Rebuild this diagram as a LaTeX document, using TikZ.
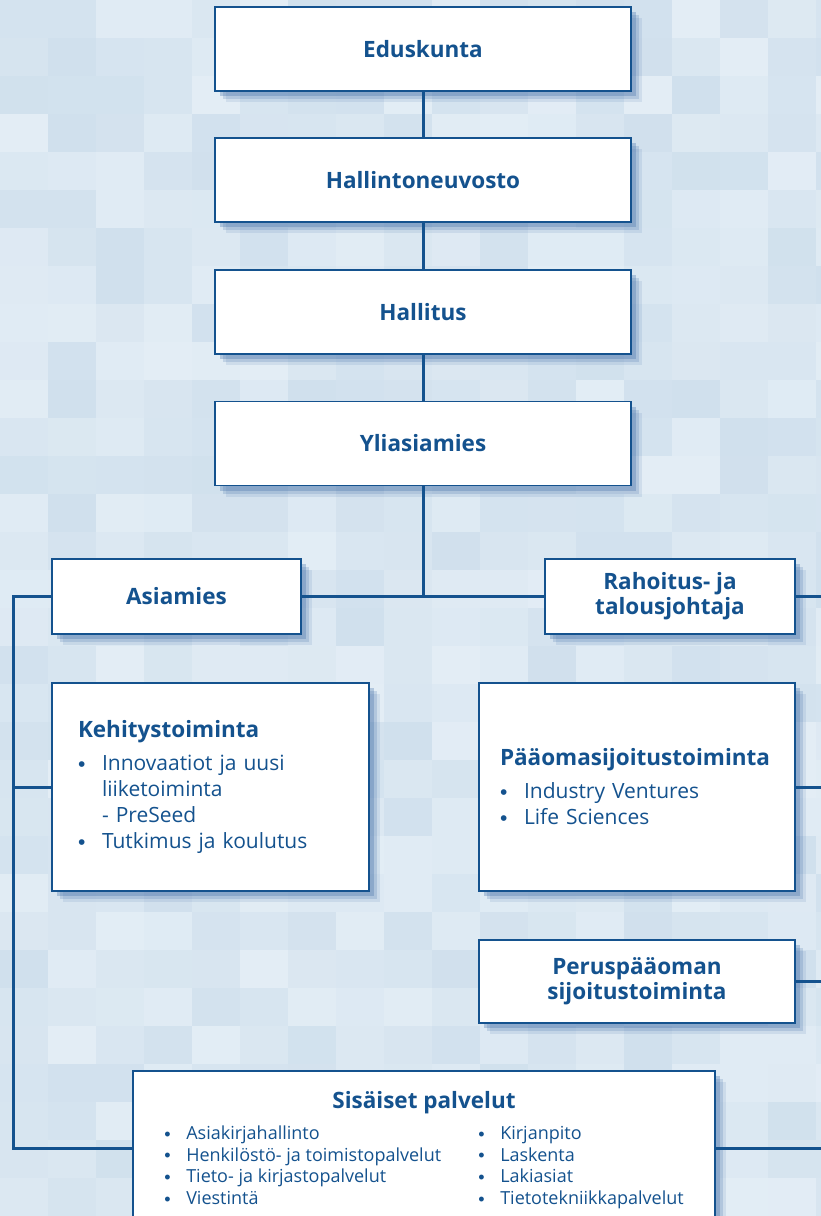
\documentclass[tikz,border=0pt]{standalone}
\usepackage{fontspec}
\setmainfont{Open Sans}
\newfontfamily\dotfont{Liberation Sans}
\usetikzlibrary{shadows}
\definecolor{orgblue}{HTML}{14528E}
\definecolor{bgpale}{HTML}{EAF2F8}
\definecolor{bgdark}{HTML}{C9DBEA}
\definecolor{shadeblue}{HTML}{3F6CA6}
\newcommand{\bigdot}{\raisebox{-0.04em}{\dotfont\textbullet}}
\newcommand{\bul}[1]{\makebox[24pt][l]{\bigdot}#1}
\newcommand{\cont}[1]{\hspace*{24pt}#1}
\newcommand{\sbul}[1]{\makebox[22pt][l]{\bigdot}#1}
\tikzset{
  box/.style={draw=orgblue, line width=1.8pt, fill=white, text=orgblue,
    drop shadow={shadow xshift=11pt, shadow yshift=-11pt, fill=shadeblue, opacity=.12},
    drop shadow={shadow xshift=8pt, shadow yshift=-8pt, fill=shadeblue, opacity=.2},
    drop shadow={shadow xshift=5pt, shadow yshift=-5pt, fill=shadeblue, opacity=.3},
    inner sep=0pt},
  headbox/.style={box, minimum width=416pt, minimum height=84pt,
    font=\bfseries\fontsize{22.5}{25}\selectfont, align=center},
  midbox/.style={box, minimum width=249pt, minimum height=75pt,
    font=\bfseries\fontsize{22.5}{25}\selectfont, align=center},
  listbox/.style={box, minimum width=317pt, minimum height=208pt,
    font=\fontsize{21}{26}\selectfont, align=left},
  conn/.style={draw=orgblue, line width=3pt}
}
\begin{document}
\begin{tikzpicture}[x=1pt, y=-1pt]
\path[use as bounding box] (0,0) rectangle (821,1216);
\clip (0,0) rectangle (821,1216);
% background
\pgfmathsetseed{42}
\foreach \gx in {0,...,17}{
  \foreach \gy in {0,...,32}{
    \pgfmathsetmacro{\mix}{20+60*rnd}
    \fill[bgpale!\mix!bgdark] (\gx*48,\gy*38) rectangle +(48,38);
  }
}
% top chain
\node[headbox] (eduskunta) at (423,49) {Eduskunta};
\node[headbox] (hallneuv) at (423,180) {Hallintoneuvosto};
\node[headbox] (hallitus) at (423,312) {Hallitus};
\node[headbox] (ylias) at (423,443.5) {Yliasiamies};
% second row
\node[midbox] (asiamies) at (176.5,596.5) {Asiamies};
\node[midbox, minimum width=250pt] (rahoitus) at (670,596.5) {Rahoitus- ja\\talousjohtaja};
% units
\node[listbox, text width=265pt] (kehitys) at (210.5,787)
  {{\bfseries\fontsize{22.5}{26}\selectfont Kehitystoiminta}\\[7pt]
   \bul{Innovaatiot ja uusi}\\
   \cont{liiketoiminta}\\
   \cont{- PreSeed}\\
   \bul{Tutkimus ja koulutus}};
\node[listbox, minimum width=316pt, text width=274pt] (paaoma) at (637,787)
  {{\bfseries\fontsize{22.5}{26}\selectfont P\"a\"aomasijoitustoiminta}\\[7pt]
   \bul{Industry Ventures}\\
   \bul{Life Sciences}};
\node[midbox, minimum width=316pt, minimum height=83pt] (perus) at (637,981.5)
  {Perusp\"a\"aoman\\sijoitustoiminta};
\node[box, minimum width=582pt, minimum height=161pt, align=center,
      font=\fontsize{18}{21.7}\selectfont] (sisaiset) at (424,1151.5)
  {{\bfseries\fontsize{22.5}{26}\selectfont Sis\"aiset palvelut}\\[9pt]
   \begin{tabular}{@{}p{314pt}@{}l@{}}
   \sbul{Asiakirjahallinto} & \sbul{Kirjanpito}\\
   \sbul{Henkil\"ost\"o- ja toimistopalvelut} & \sbul{Laskenta}\\
   \sbul{Tieto- ja kirjastopalvelut} & \sbul{Lakiasiat}\\
   \sbul{Viestint\"a} & \sbul{Tietotekniikkapalvelut}
   \end{tabular}};
% connectors
\coordinate (busL) at (13,0);
\coordinate (busR) at (832,0);
\coordinate (sisL) at ([yshift=3.5pt]sisaiset.west);
\coordinate (sisR) at ([yshift=3.5pt]sisaiset.east);
\draw[conn] (eduskunta) -- (hallneuv);
\draw[conn] (hallneuv) -- (hallitus);
\draw[conn] (hallitus) -- (ylias);
\draw[conn] (ylias.south) -- (ylias.south |- asiamies.east);
\draw[conn] (asiamies.east) -- (rahoitus.west);
\draw[conn] (asiamies.west) -- (asiamies.west -| busL) -- (sisL -| busL) -- (sisL);
\draw[conn] (kehitys.west -| busL) -- (kehitys.west);
\draw[conn] (rahoitus.east) -- (rahoitus.east -| busR) -- (sisR -| busR) -- (sisR);
\draw[conn] (paaoma.east) -- (paaoma.east -| busR);
\draw[conn] (perus.east) -- (perus.east -| busR);
\end{tikzpicture}
\end{document}
